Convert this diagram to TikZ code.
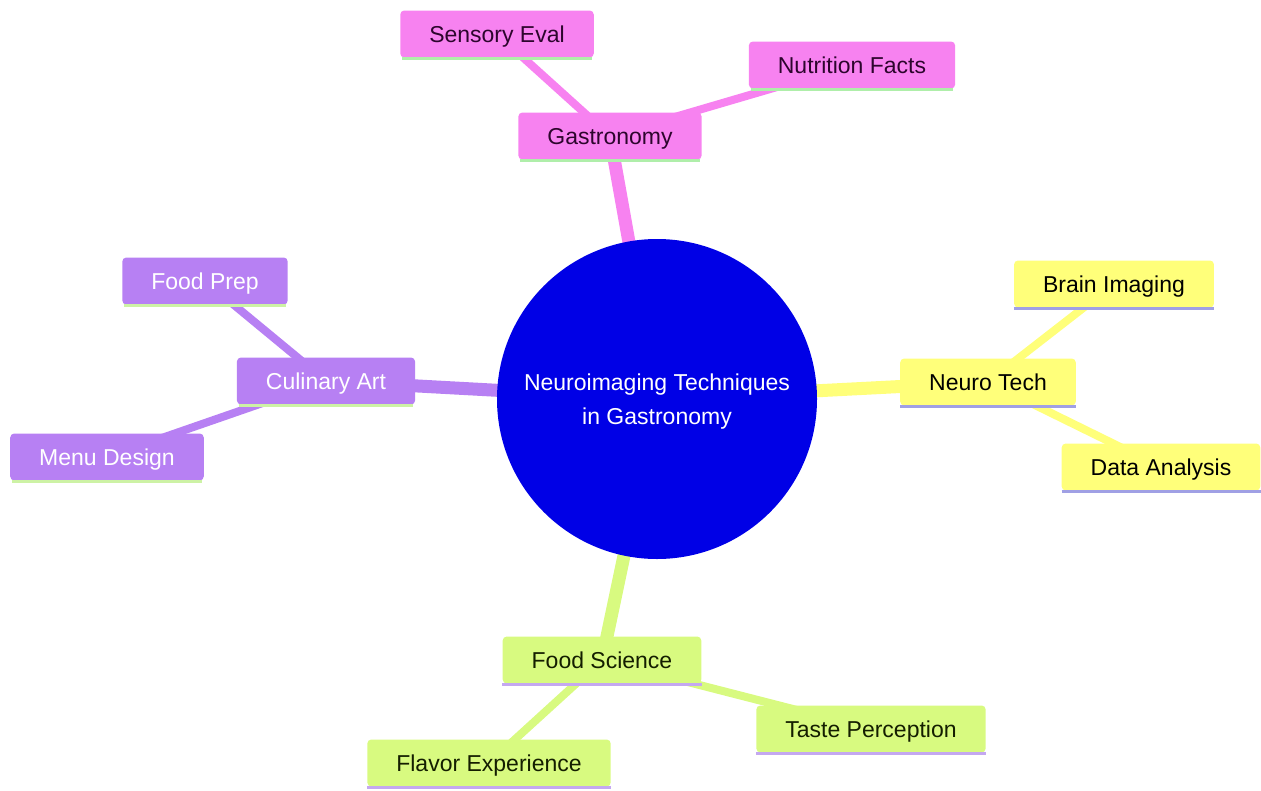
\documentclass[tikz,border=0pt]{standalone}
\usepackage{fontspec}
\setmainfont{Liberation Sans}
\pgfdeclarelayer{bg}
\pgfsetlayers{bg,main}
\definecolor{rootblue}{RGB}{0,0,230}
\definecolor{pinkc}{RGB}{247,130,240}
\definecolor{purplec}{RGB}{183,128,243}
\definecolor{yellowc}{RGB}{255,255,122}
\definecolor{greenc}{RGB}{216,250,128}
\definecolor{ulgreen}{RGB}{175,238,170}
\definecolor{ullime}{RGB}{205,242,165}
\definecolor{ulblue}{RGB}{160,160,228}
\definecolor{ulpurple}{RGB}{196,168,240}
\definecolor{pinktext}{RGB}{45,5,45}
\definecolor{greentext}{RGB}{20,30,0}
\begin{document}
\begin{tikzpicture}[x=1pt,y=-1pt,
  box/.style={rectangle, rounded corners=4pt, inner xsep=29pt, inner ysep=0pt,
    minimum height=47pt, text height=16.5pt, text depth=0pt,
    font=\fontsize{23}{28}\selectfont},
  pinkbox/.style={box, fill=pinkc, text=pinktext},
  purplebox/.style={box, fill=purplec, text=white},
  yellowbox/.style={box, fill=yellowc, text=black},
  greenbox/.style={box, fill=greenc, text=greentext},
  thickedge/.style={line width=13pt},
  thinedge/.style={line width=8pt},
  ul/.style={line width=3pt}
]
\useasboundingbox (0,0) rectangle (1261,790);

\node[circle, fill=rootblue, minimum size=320pt, inner sep=0pt,
  label={[text=white, align=center, yshift=-3pt,
    font=\fontsize{23}{34}\selectfont]center:Neuroimaging Techniques\\in Gastronomy}]
  (root) at (657,399) {};

\node[pinkbox] (gas) at (610,136) {Gastronomy};
\node[pinkbox] (sens) at (497,34) {Sensory Eval};
\node[pinkbox] (nutr) at (852,65) {Nutrition Facts};

\node[purplebox] (cul) at (326,381) {Culinary Art};
\node[purplebox] (prep) at (205,281) {Food Prep};
\node[purplebox] (menu) at (107,457) {Menu Design};

\node[yellowbox] (neuro) at (988,382) {Neuro Tech};
\node[yellowbox] (brain) at (1114,284) {Brain Imaging};
\node[yellowbox] (data) at (1161,467) {Data Analysis};

\node[greenbox] (fsci) at (602,660) {Food Science};
\node[greenbox] (taste) at (871,729) {Taste Perception};
\node[greenbox] (flav) at (489,763) {Flavor Experience};

\begin{pgfonlayer}{bg}
  \draw[thickedge, pinkc] (root.center) -- (gas.center);
  \draw[thinedge, pinkc] (gas.center) -- (sens.center);
  \draw[thinedge, pinkc] (gas.center) -- (nutr.center);
  \draw[thickedge, purplec] (root.center) -- (cul.center);
  \draw[thinedge, purplec] (cul.center) -- (prep.center);
  \draw[thinedge, purplec] (cul.center) -- (menu.center);
  \draw[thickedge, yellowc] (root.center) -- (neuro.center);
  \draw[thinedge, yellowc] (neuro.center) -- (brain.center);
  \draw[thinedge, yellowc] (neuro.center) -- (data.center);
  \draw[thickedge, greenc] (root.center) -- (fsci.center);
  \draw[thinedge, greenc] (fsci.center) -- (taste.center);
  \draw[thinedge, greenc] (fsci.center) -- (flav.center);
\end{pgfonlayer}

\foreach \n in {gas,sens,nutr}
  \draw[ul, ulgreen] ([xshift=2pt,yshift=-1pt]\n.south west) -- ([xshift=-2pt,yshift=-1pt]\n.south east);
\foreach \n in {cul,prep,menu}
  \draw[ul, ullime] ([xshift=2pt,yshift=-1pt]\n.south west) -- ([xshift=-2pt,yshift=-1pt]\n.south east);
\foreach \n in {neuro,brain,data}
  \draw[ul, ulblue] ([yshift=-1pt]\n.south west) -- ([yshift=-1pt]\n.south east);
\foreach \n in {fsci,taste,flav}
  \draw[ul, ulpurple] ([yshift=-1pt]\n.south west) -- ([yshift=-1pt]\n.south east);
\end{tikzpicture}
\end{document}
